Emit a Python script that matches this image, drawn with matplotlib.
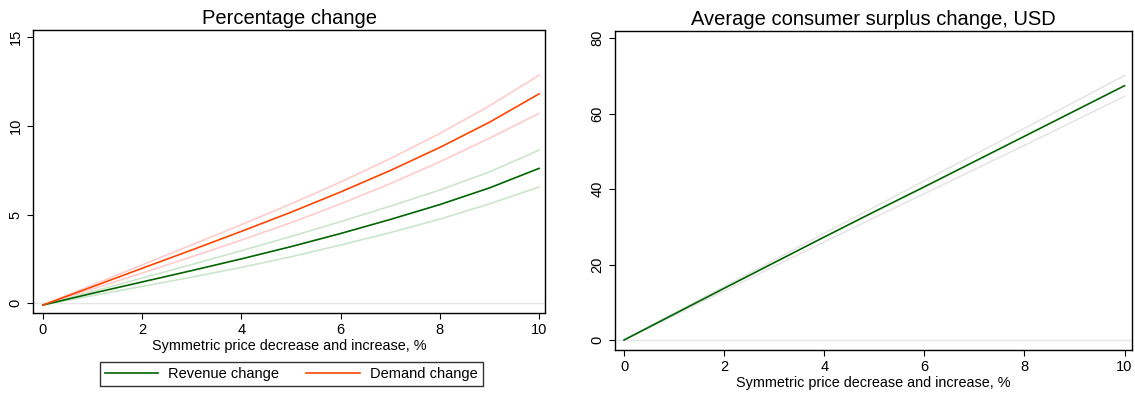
import numpy as np
import matplotlib.pyplot as plt

plt.rcParams['font.family'] = ['Liberation Sans', 'DejaVu Sans']

# price change, %
x = [0, 1, 2, 3, 4, 5, 6, 7, 8, 9, 10]

# left panel: percentage change (with bands)
demand = [-0.1, 0.93, 1.97, 3.0, 4.05, 5.13, 6.27, 7.48, 8.78, 10.2, 11.8]
demand_hi = [-0.1, 1.03, 2.16, 3.29, 4.43, 5.6, 6.83, 8.15, 9.57, 11.12, 12.85]
demand_lo = [-0.1, 0.8, 1.7, 2.62, 3.56, 4.54, 5.6, 6.74, 7.97, 9.3, 10.7]
revenue = [-0.1, 0.56, 1.2, 1.84, 2.5, 3.19, 3.93, 4.72, 5.56, 6.5, 7.6]
revenue_hi = [-0.1, 0.66, 1.42, 2.18, 2.96, 3.76, 4.6, 5.47, 6.38, 7.4, 8.63]
revenue_lo = [-0.1, 0.43, 0.95, 1.47, 2.02, 2.62, 3.28, 3.98, 4.74, 5.6, 6.55]

# right panel: average consumer surplus change, USD
cs = [0, 6.85, 13.7, 20.5, 27.3, 34.0, 40.6, 47.3, 54.0, 60.7, 67.4]
cs_hi = [0, 7.05, 14.15, 21.2, 28.3, 35.2, 42.2, 49.1, 56.1, 63.1, 70.1]
cs_lo = [0, 6.5, 13.0, 19.5, 26.0, 32.4, 38.8, 45.2, 51.6, 58.1, 64.6]

green = '#006400'
orange = '#ff4500'

fig = plt.figure(figsize=(11.35, 3.94), dpi=100)
ax1 = fig.add_axes([0.0291, 0.2056, 0.4511, 0.7183])
ax2 = fig.add_axes([0.5419, 0.1117, 0.4555, 0.8096])

for ax in (ax1, ax2):
    ax.axhline(0, color='#e6e6e6', lw=1, zorder=0)
    ax.tick_params(direction='out', length=4, width=0.8, labelsize=10.5, colors='black')
    ax.tick_params(axis='y', labelrotation=90)
    for s in ax.spines.values():
        s.set_linewidth(1.0)
    ax.set_xticks([0, 2, 4, 6, 8, 10])
    ax.set_xlabel('Symmetric price decrease and increase, %', fontsize=10.4, labelpad=1)

# left
ax1.plot(x, demand_hi, color='#ffcccc', lw=1.2)
ax1.plot(x, demand_lo, color='#ffcccc', lw=1.2)
ax1.plot(x, revenue_hi, color='#cce6cc', lw=1.2)
ax1.plot(x, revenue_lo, color='#cce6cc', lw=1.2)
l1, = ax1.plot(x, revenue, color=green, lw=1.2, label='Revenue change')
l2, = ax1.plot(x, demand, color=orange, lw=1.2, label='Demand change')
ax1.set_xlim(-0.2, 10.12)
ax1.set_ylim(-0.55, 15.4)
ax1.set_yticks([0, 5, 10, 15])
ax1.set_title('Percentage change', fontsize=14.5, pad=4)

# right
ax2.plot(x, cs_hi, color='#e6e6e6', lw=1.2)
ax2.plot(x, cs_lo, color='#e6e6e6', lw=1.2)
ax2.plot(x, cs, color=green, lw=1.2)
ax2.set_xlim(-0.18, 10.15)
ax2.set_ylim(-2.65, 81.9)
ax2.set_yticks([0, 20, 40, 60, 80])
ax2.set_title('Average consumer surplus change, USD', fontsize=14.5, pad=4)

for ax in (ax1, ax2):
    for lab in ax.get_yticklabels():
        lab.set_va('center')

leg = fig.legend(handles=[l1, l2], loc='center', bbox_to_anchor=(0.2566, 0.0508),
                 ncol=2, fontsize=10.5, frameon=True, fancybox=False,
                 edgecolor='black', handlelength=3.65, columnspacing=1.85,
                 borderpad=0.35, handletextpad=0.7)
leg.get_frame().set_linewidth(1.0)

fig.savefig('out.png', dpi=100)
